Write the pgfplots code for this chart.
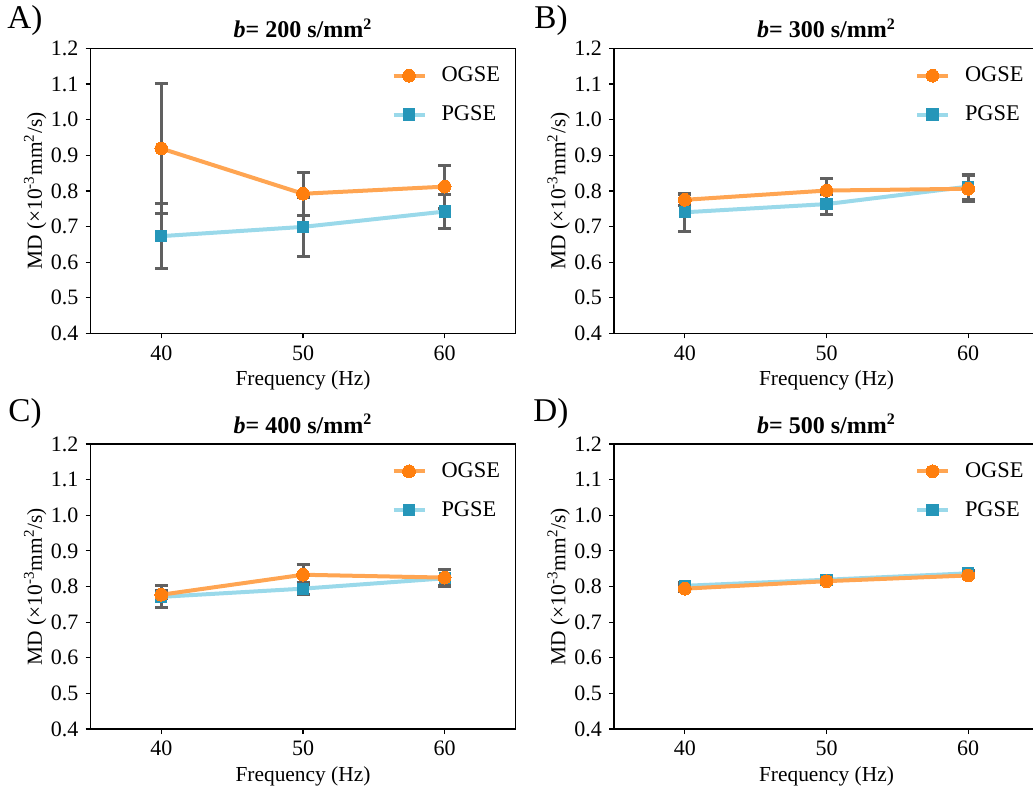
\documentclass[border=0pt]{standalone}
\usepackage{fontspec}
\setmainfont{Liberation Serif}
\usepackage{pgfplots}
\pgfplotsset{compat=1.18}
\definecolor{ogseline}{HTML}{FFA552}
\definecolor{ogsemark}{HTML}{FF7F0E}
\definecolor{pgseline}{HTML}{9AD9EA}
\definecolor{pgsemark}{HTML}{2596B9}
\definecolor{errgray}{HTML}{606060}
\pgfplotsset{
  panel/.style={
    scale only axis, width=212.5pt, height=142.5pt,
    xmin=35, xmax=65, ymin=0.4, ymax=1.2,
    xtick={40,50,60}, ytick={0.4,0.5,...,1.2},
    tick pos=left, tick align=outside, major tick length=2.5pt,
    axis line style={line width=0.6pt}, every tick/.style={line width=0.6pt, black},
    /pgf/number format/assume math mode=true,
    yticklabel style={/pgf/number format/.cd, fixed, fixed zerofill, precision=1},
    ticklabel style={font=\fontsize{11}{12}\selectfont},
    label style={font=\fontsize{10.7}{12}\selectfont},
    xlabel={Frequency (Hz)},
    ylabel={MD (×10\textsuperscript{-3}mm\textsuperscript{2}/s)},
    xlabel style={at={(axis description cs:0.5,-0.165)}, anchor=center},
    ylabel style={at={(axis description cs:-0.13,0.5)}, anchor=center},
    every axis title shift=0pt,
    title style={at={(axis description cs:0.5,1.07)}, anchor=center, font=\fontsize{12}{14}\selectfont\bfseries},
    legend style={draw=none, fill=none, at={(0.988,0.965)}, anchor=north east,
      font=\fontsize{11.2}{13}\selectfont, row sep=6.5pt, cells={anchor=west}},
    reverse legend,
    legend image code/.code={\draw[mark repeat=2,mark phase=2] plot coordinates {(0pt,0pt) (7.75pt,0pt) (15.5pt,0pt)};\path (21pt,0pt);},
  },
  errs/.style={draw=none, mark=none, forget plot,
    error bars/.cd, y dir=both, y explicit,
    error bar style={draw=errgray, line width=1.5pt},
    error mark options={draw=errgray, rotate=90, mark size=3.25pt, line width=1.5pt}},
  ogse/.style={ogseline, line width=2pt, mark=*, mark size=3.2pt, mark options={draw=ogsemark, fill=ogsemark, line width=0pt}},
  pgse/.style={pgseline, line width=2pt, mark=square*, mark size=2.8pt, mark options={draw=pgsemark, fill=pgsemark, line width=0pt}},
}
\begin{document}
\begin{tikzpicture}
\path[use as bounding box] (0,0) rectangle (516.5pt,-395.5pt);
% Panel A
\begin{axis}[panel, at={(45.25pt,-166.7pt)}, anchor=south west, title={\textit{b}= 200 s/mm\textsuperscript{2}}]
\addplot[errs] coordinates {(40,0.919)+-(0,0.183) (50,0.792)+-(0,0.060) (60,0.812)+-(0,0.060)};
\addplot[errs] coordinates {(40,0.673)+-(0,0.091) (50,0.699)+-(0,0.082) (60,0.742)+-(0,0.048)};
\addplot[pgse] coordinates {(40,0.673) (50,0.699) (60,0.742)};
\addlegendentry{PGSE}
\addplot[ogse] coordinates {(40,0.919) (50,0.792) (60,0.812)};
\addlegendentry{OGSE}
\end{axis}
% Panel B
\begin{axis}[panel, at={(307pt,-166.7pt)}, anchor=south west, title={\textit{b}= 300 s/mm\textsuperscript{2}}]
\addplot[errs] coordinates {(40,0.775)+-(0,0.015) (50,0.801)+-(0,0.033) (60,0.806)+-(0,0.037)};
\addplot[errs] coordinates {(40,0.740)+-(0,0.053) (50,0.763)+-(0,0.028) (60,0.812)+-(0,0.035)};
\addplot[pgse] coordinates {(40,0.740) (50,0.763) (60,0.812)};
\addlegendentry{PGSE}
\addplot[ogse] coordinates {(40,0.775) (50,0.801) (60,0.806)};
\addlegendentry{OGSE}
\end{axis}
% Panel C
\begin{axis}[panel, at={(45.25pt,-364.5pt)}, anchor=south west, title={\textit{b}= 400 s/mm\textsuperscript{2}}]
\addplot[errs] coordinates {(40,0.777)+-(0,0.012) (50,0.833)+-(0,0.028) (60,0.825)+-(0,0.022)};
\addplot[errs] coordinates {(40,0.771)+-(0,0.031) (50,0.794)+-(0,0.017) (60,0.823)+-(0,0.024)};
\addplot[pgse] coordinates {(40,0.771) (50,0.794) (60,0.823)};
\addlegendentry{PGSE}
\addplot[ogse] coordinates {(40,0.777) (50,0.833) (60,0.825)};
\addlegendentry{OGSE}
\end{axis}
% Panel D
\begin{axis}[panel, at={(307pt,-364.5pt)}, anchor=south west, title={\textit{b}= 500 s/mm\textsuperscript{2}}]
\addplot[errs] coordinates {(40,0.794)+-(0,0.008) (50,0.815)+-(0,0.006) (60,0.831)+-(0,0.006)};
\addplot[errs] coordinates {(40,0.802)+-(0,0.010) (50,0.819)+-(0,0.007) (60,0.837)+-(0,0.007)};
\addplot[pgse] coordinates {(40,0.802) (50,0.819) (60,0.837)};
\addlegendentry{PGSE}
\addplot[ogse] coordinates {(40,0.794) (50,0.815) (60,0.831)};
\addlegendentry{OGSE}
\end{axis}
\node[font=\fontsize{16.6}{18}\selectfont] at (12.5pt,-10.5pt) {A)};
\node[font=\fontsize{16.6}{18}\selectfont] at (275.5pt,-10.5pt) {B)};
\node[font=\fontsize{16.6}{18}\selectfont] at (12.5pt,-207pt) {C)};
\node[font=\fontsize{16.6}{18}\selectfont] at (275.5pt,-207pt) {D)};
\end{tikzpicture}
\end{document}
